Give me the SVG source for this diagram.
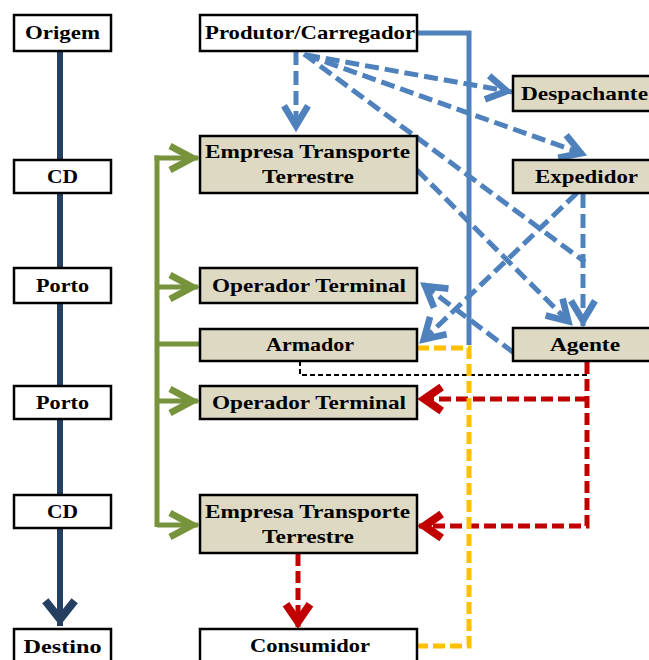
<svg xmlns="http://www.w3.org/2000/svg" width="649" height="660" viewBox="0 0 649 660">
<style>
.box{stroke:#000;stroke-width:2.5}
.w{fill:#fff}
.t{fill:#DDD9C3}
text{font-family:"Liberation Serif","Times New Roman",serif;font-weight:bold;font-size:19px;fill:#000;text-anchor:middle}
.nv{stroke:#243F60;stroke-width:6;fill:none}
.gr{stroke:#77933C;stroke-width:5;fill:none}
.bs{stroke:#4F81BD;stroke-width:5;fill:none}
.bd{stroke:#4F81BD;stroke-width:5;fill:none;stroke-dasharray:14 6}
.yd{stroke:#FFC000;stroke-width:5;fill:none;stroke-dasharray:12 5}
.rd{stroke:#C00000;stroke-width:5;fill:none;stroke-dasharray:12 5}
.kd{stroke:#000;stroke-width:2;fill:none;stroke-dasharray:5 3}
</style>
<defs>
<marker id="mb" markerUnits="userSpaceOnUse" markerWidth="40" markerHeight="40" viewBox="-25 -15 30 30" refX="0" refY="0" orient="auto" overflow="visible">
<path d="M-19 -9 L-4 0 L-19 9" fill="none" stroke="#4F81BD" stroke-width="5"/>
</marker>
<marker id="mr" markerUnits="userSpaceOnUse" markerWidth="40" markerHeight="40" viewBox="-25 -15 30 30" refX="0" refY="0" orient="auto" overflow="visible">
<path d="M-17 -9 L-4 0 L-17 9" fill="none" stroke="#C00000" stroke-width="6"/>
</marker>
<marker id="mg" markerUnits="userSpaceOnUse" markerWidth="40" markerHeight="40" viewBox="-25 -15 30 30" refX="0" refY="0" orient="auto" overflow="visible">
<path d="M-21 -9 L-4 0 L-21 9" fill="none" stroke="#77933C" stroke-width="5"/>
</marker>
<marker id="mn" markerUnits="userSpaceOnUse" markerWidth="40" markerHeight="40" viewBox="-25 -15 30 30" refX="0" refY="0" orient="auto" overflow="visible">
<path d="M-19 -11 L-5 0 L-19 11" fill="none" stroke="#243F60" stroke-width="6"/>
</marker>
</defs>
<g id="connectors">
<path class="nv" d="M60 51 V626" marker-end="url(#mn)"/>
<path class="gr" d="M157 155.5 V527"/>
<path class="gr" d="M154.5 158 H198" marker-end="url(#mg)"/>
<path class="gr" d="M157 287 H198" marker-end="url(#mg)"/>
<path class="gr" d="M157 344 H200"/>
<path class="gr" d="M157 401 H198" marker-end="url(#mg)"/>
<path class="gr" d="M157 525 H198" marker-end="url(#mg)"/>
<path class="bd" d="M296 51 V131" marker-end="url(#mb)"/>
<path class="bd" d="M306 55 L512 92" marker-end="url(#mb)"/>
<path class="bd" d="M306 55 L586 155" marker-end="url(#mb)"/>
<path class="bd" d="M304 54 L585 262"/>
<path class="bd" d="M417 170 L572 325" marker-end="url(#mb)"/>
<path class="bd" d="M577 193 L420 343" marker-end="url(#mb)"/>
<path class="bd" d="M583 194 V326" marker-end="url(#mb)"/>
<path class="bd" d="M514 353 L421 283" marker-end="url(#mb)"/>
<path class="kd" d="M300 361 V375 H587 V361"/>
<path class="rd" d="M587 362 V526 H419" marker-end="url(#mr)"/>
<path class="rd" d="M587 399 H419" marker-end="url(#mr)"/>
<path class="rd" d="M298 554 V627" marker-end="url(#mr)"/>
<path class="bs" d="M417 33 H469 V345"/>
<path class="yd" d="M417 348 H469 V646 H417"/>
</g>
<g id="origem"><rect class="box w" x="14" y="15" width="97" height="36"/><text x="62.5" y="39" textLength="75" lengthAdjust="spacingAndGlyphs">Origem</text></g>
<g id="cd1"><rect class="box w" x="14" y="160" width="97" height="33"/><text x="62.5" y="183" textLength="31" lengthAdjust="spacingAndGlyphs">CD</text></g>
<g id="porto1"><rect class="box w" x="14" y="268" width="97" height="35"/><text x="62.5" y="292" textLength="53" lengthAdjust="spacingAndGlyphs">Porto</text></g>
<g id="porto2"><rect class="box w" x="14" y="386" width="97" height="33"/><text x="62.5" y="409" textLength="53" lengthAdjust="spacingAndGlyphs">Porto</text></g>
<g id="cd2"><rect class="box w" x="14" y="495" width="97" height="33"/><text x="62.5" y="518" textLength="31" lengthAdjust="spacingAndGlyphs">CD</text></g>
<g id="destino"><rect class="box w" x="14" y="629" width="97" height="40"/><text x="62.5" y="653" textLength="78" lengthAdjust="spacingAndGlyphs">Destino</text></g>
<g id="produtor"><rect class="box w" x="200" y="15" width="217" height="36"/><text x="310" y="39" textLength="210" lengthAdjust="spacingAndGlyphs">Produtor/Carregador</text></g>
<g id="empresa1"><rect class="box t" x="200" y="136" width="217" height="57"/><text x="307.5" y="158" textLength="205" lengthAdjust="spacingAndGlyphs">Empresa Transporte</text><text x="308" y="183" textLength="92" lengthAdjust="spacingAndGlyphs">Terrestre</text></g>
<g id="operador1"><rect class="box t" x="200" y="268" width="217" height="35"/><text x="309" y="292" textLength="194" lengthAdjust="spacingAndGlyphs">Operador Terminal</text></g>
<g id="armador"><rect class="box t" x="200" y="329" width="217" height="32"/><text x="310" y="351" textLength="88" lengthAdjust="spacingAndGlyphs">Armador</text></g>
<g id="operador2"><rect class="box t" x="200" y="386" width="217" height="33"/><text x="309" y="409" textLength="194" lengthAdjust="spacingAndGlyphs">Operador Terminal</text></g>
<g id="empresa2"><rect class="box t" x="200" y="495" width="217" height="58"/><text x="307.5" y="518" textLength="205" lengthAdjust="spacingAndGlyphs">Empresa Transporte</text><text x="308" y="543" textLength="92" lengthAdjust="spacingAndGlyphs">Terrestre</text></g>
<g id="consumidor"><rect class="box w" x="200" y="629" width="217" height="40"/><text x="310" y="652" textLength="120" lengthAdjust="spacingAndGlyphs">Consumidor</text></g>
<g id="despachante"><rect class="box t" x="513" y="76" width="146" height="35"/><text x="584.5" y="100" textLength="127" lengthAdjust="spacingAndGlyphs">Despachante</text></g>
<g id="expedidor"><rect class="box t" x="513" y="160" width="146" height="33"/><text x="586.5" y="183" textLength="103" lengthAdjust="spacingAndGlyphs">Expedidor</text></g>
<g id="agente"><rect class="box t" x="513" y="328" width="146" height="33"/><text x="585" y="351" textLength="70" lengthAdjust="spacingAndGlyphs">Agente</text></g>
</svg>
